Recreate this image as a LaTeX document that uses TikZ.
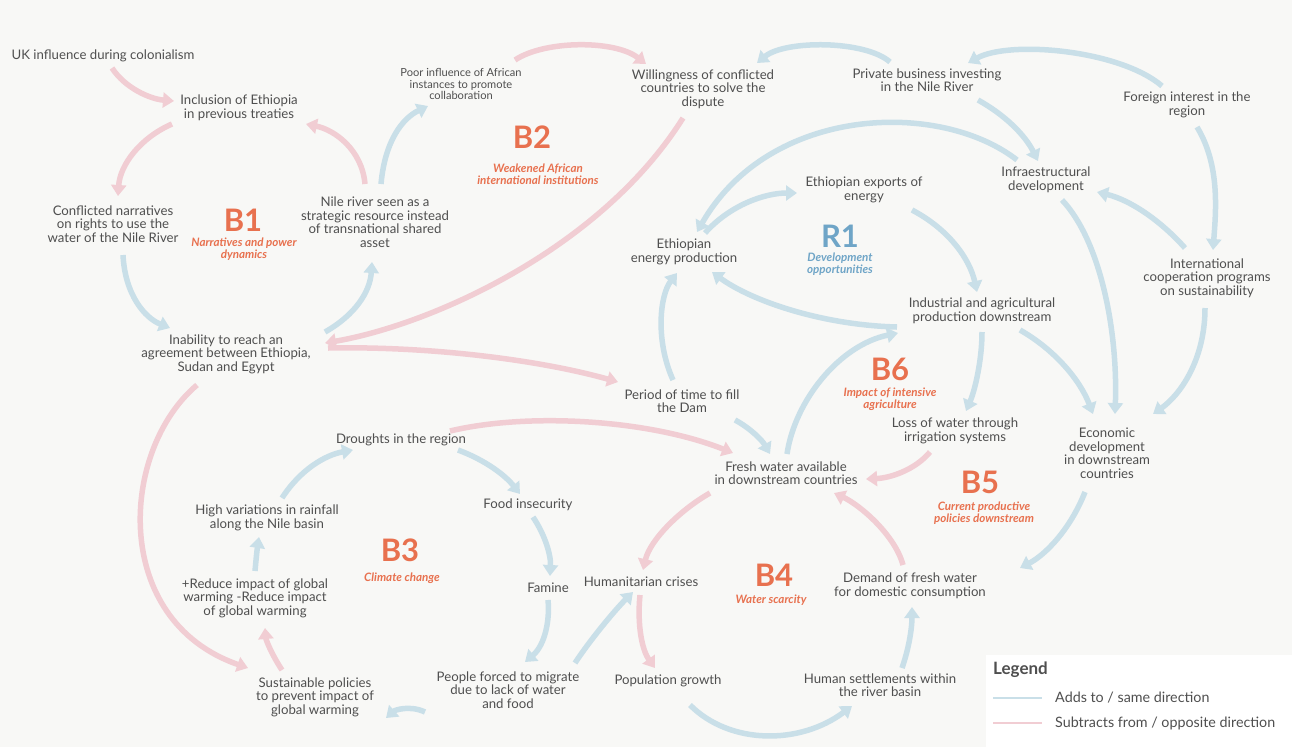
\documentclass[tikz,border=0pt]{standalone}
\usepackage{fontspec}
\setmainfont{Lato}
\usetikzlibrary{arrows.meta}
\definecolor{bgc}{HTML}{F8F8F6}
\definecolor{txtc}{HTML}{4F4F4F}
\definecolor{bluec}{HTML}{C9DFE8}
\definecolor{pinkc}{HTML}{F1CDD3}
\definecolor{orangec}{HTML}{E8714F}
\definecolor{r1c}{HTML}{6FA5C7}
\begin{document}
\begin{tikzpicture}[x=1pt,y=-1pt,
  txt/.style={align=center, text=txtc, inner sep=0pt, font=\fontsize{13.2}{13.5}\selectfont},
  smalltxt/.style={align=center, text=txtc, inner sep=0pt, font=\fontsize{11.1}{11.6}\selectfont},
  looptitle/.style={text=orangec, inner sep=0pt, text height=22pt, text depth=0pt, font=\fontsize{31}{31}\selectfont\bfseries},
  loopsub/.style={align=center, text=orangec, inner sep=0pt, font=\fontsize{11.6}{12.3}\selectfont\bfseries\itshape},
  bl/.style={draw=bluec, line width=5.5pt, -{Triangle[width=15pt,length=11pt]}},
  pk/.style={draw=pinkc, line width=5.5pt, -{Triangle[width=15pt,length=11pt]}},
  legtxt/.style={anchor=west, text=txtc, inner sep=0pt, font=\fontsize{14.3}{15}\selectfont}
]
\fill[bgc] (0,0) rectangle (1292,747);
\fill[white] (986,655) rectangle (1292,747);

% nodes
\node[txt] (uk) at (103,56) {UK influence during colonialism};
\node[txt] (incl) at (239,108) {Inclusion of Ethiopia\\in previous treaties};
\node[txt] (confl) at (113,224) {Conflicted narratives\\on rights to use the\\water of the Nile River};
\node[txt] (nile) at (375,222) {Nile river seen as a\\strategic resource instead\\of transnational shared\\asset};
\node[smalltxt] (poor) at (461,84) {Poor influence of African\\instances to promote\\collaboration};
\node[txt] (will) at (703,89) {Willingness of conflicted\\countries to solve the\\dispute};
\node[txt] (priv) at (927,80) {Private business investing\\in the Nile River};
\node[txt] (foreign) at (1187,105) {Foreign interest in the\\region};
\node[txt] (infra) at (1046,180) {Infraestructural\\development};
\node[txt] (exports) at (864,190) {Ethiopian exports of\\energy};
\node[txt] (energy) at (684,252) {Ethiopian\\energy production};
\node[txt] (intl) at (1207,278) {International\\cooperation programs\\on sustainability};
\node[txt] (indus) at (982,311) {Industrial and agricultural\\production downstream};
\node[txt] (inab) at (226,354) {Inability to reach an\\agreement between Ethiopia,\\Sudan and Egypt};
\node[txt] (period) at (682,401) {Period of time to fill\\the Dam};
\node[txt] (loss) at (955,431) {Loss of water through\\irrigation systems};
\node[txt] (econ) at (1107,453) {Economic\\development\\in downstream\\countries};
\node[txt] (drought) at (401,440) {Droughts in the region};
\node[txt] (fresh) at (786,473) {Fresh water available\\in downstream countries};
\node[txt] (rain) at (267,518) {High variations in rainfall\\along the Nile basin};
\node[txt] (food) at (528,505) {Food insecurity};
\node[txt] (reduce) at (255,598) {+Reduce impact of global\\warming -Reduce impact\\of global warming};
\node[txt] (famine) at (548,588) {Famine};
\node[txt] (hum) at (641,582) {Humanitarian crises};
\node[txt] (demand) at (910,586) {Demand of fresh water\\for domestic consumption};
\node[txt] (pop) at (668,681) {Population growth};
\node[txt] (settle) at (880,685) {Human settlements within\\the river basin};
\node[txt] (people) at (508,690) {People forced to migrate\\due to lack of water\\and food};
\node[txt] (sust) at (315,697) {Sustainable policies\\to prevent impact of\\global warming};

% loop labels
\node[looptitle] (b1) at (243,220) {B1};
\node[loopsub] (b1s) at (244,249) {Narratives and power\\dynamics};
\node[looptitle] (b2) at (532,137) {B2};
\node[loopsub] (b2s) at (538,174) {Weakened African\\international institutions};
\node[looptitle, text=r1c] (r1) at (840,236) {R1};
\node[loopsub, text=r1c] (r1s) at (840,264) {Development\\opportunities};
\node[looptitle] (b6) at (890,369) {B6};
\node[loopsub] (b6s) at (890,399) {Impact of intensive\\agriculture};
\node[looptitle] (b5) at (980,482) {B5};
\node[loopsub] (b5s) at (984,513) {Current productive\\policies downstream};
\node[looptitle] (b3) at (400,550) {B3};
\node[loopsub] (b3s) at (402,578) {Climate change};
\node[looptitle] (b4) at (774,575) {B4};
\node[loopsub] (b4s) at (771,600) {Water scarcity};

% connectors
\draw[pk] ([shift={(9,12)}]uk.center) .. controls (125,88) and (150,99) .. ([shift={(-65,-7)}]incl.center);
\draw[pk] ([shift={(-67,16)}]incl.center) .. controls (140,138) and (120,165) .. ([shift={(5,-28)}]confl.center);
\draw[pk] ([shift={(-10,-38)}]nile.center) .. controls (362,150) and (335,130) .. ([shift={(67,16)}]incl.center);
\draw[bl] ([shift={(6,-38)}]nile.center) .. controls (385,140) and (403,118) .. ([shift={(-33,22)}]poor.center);
\draw[bl] ([shift={(10,31)}]confl.center) .. controls (125,295) and (145,318) .. ([shift={(-56,-26)}]inab.center);
\draw[bl] ([shift={(99,-22)}]inab.center) .. controls (355,315) and (370,292) .. ([shift={(-3,40)}]nile.center);
\draw[pk] ([shift={(54,-24)}]poor.center) .. controls (545,40) and (615,40) .. ([shift={(-57,-25)}]will.center);
\draw[pk] ([shift={(-20,29)}]will.center) .. controls (600,250) and (430,325) .. ([shift={(99,-11)}]inab.center);
\draw[pk] ([shift={(102,-6)}]inab.center) .. controls (430,346) and (540,360) .. ([shift={(-64,-19)}]period.center);
\draw[bl] ([shift={(-37,-18)}]priv.center) .. controls (865,40) and (785,40) .. ([shift={(54,-26)}]will.center);
\draw[bl] ([shift={(-25,-19)}]foreign.center) .. controls (1120,50) and (1010,40) .. ([shift={(41,-17)}]priv.center);
\draw[bl] ([shift={(10,22)}]foreign.center) .. controls (1220,165) and (1216,210) .. ([shift={(6,-28)}]intl.center);
\draw[bl] ([shift={(51,20)}]priv.center) .. controls (1005,115) and (1025,135) .. ([shift={(-8,-19)}]infra.center);
\draw[bl] ([shift={(-29,-20)}]infra.center) .. controls (940,100) and (770,105) .. ([shift={(13,-20)}]energy.center);
\draw[bl] ([shift={(21,-19)}]energy.center) .. controls (730,205) and (765,193) .. ([shift={(-67,3)}]exports.center);
\draw[bl] ([shift={(48,20)}]exports.center) .. controls (950,230) and (970,260) .. ([shift={(-5,-19)}]indus.center);
\draw[bl] ([shift={(-85,16)}]indus.center) .. controls (820,325) and (750,300) .. ([shift={(28,20)}]energy.center);
\draw[bl] ([shift={(-9,-21)}]period.center) .. controls (655,340) and (660,295) .. ([shift={(-7,21)}]energy.center);
\draw[bl] ([shift={(53,19)}]period.center) .. controls (750,428) and (762,440) .. ([shift={(-16,-19)}]fresh.center);
\draw[bl] ([shift={(1,-19)}]fresh.center) .. controls (795,400) and (840,345) .. ([shift={(-84,22)}]indus.center);
\draw[bl] ([shift={(0,21)}]indus.center) .. controls (982,360) and (975,390) .. ([shift={(11,-20)}]loss.center);
\draw[bl] ([shift={(38,19)}]indus.center) .. controls (1055,350) and (1080,380) .. ([shift={(-14,-39)}]econ.center);
\draw[bl] ([shift={(16,20)}]infra.center) .. controls (1100,240) and (1118,330) .. ([shift={(8,-39)}]econ.center);
\draw[bl] ([shift={(-2,30)}]intl.center) .. controls (1205,360) and (1180,395) .. ([shift={(46,-39)}]econ.center);
\draw[bl] ([shift={(-22,-30)}]intl.center) .. controls (1160,220) and (1130,200) .. ([shift={(51,12)}]infra.center);
\draw[bl] ([shift={(-22,39)}]econ.center) .. controls (1070,530) and (1045,555) .. ([shift={(110,-18)}]demand.center);
\draw[pk] ([shift={(-25,21)}]loss.center) .. controls (915,470) and (890,478) .. ([shift={(80,6)}]fresh.center);
\draw[pk] ([shift={(-7,-21)}]demand.center) .. controls (895,535) and (860,505) .. ([shift={(48,20)}]fresh.center);
\draw[pk] ([shift={(-76,20)}]fresh.center) .. controls (680,510) and (650,540) .. ([shift={(2,-12)}]hum.center);
\draw[pk] ([shift={(49,-9)}]drought.center) .. controls (530,412) and (650,420) .. ([shift={(-53,-20)}]fresh.center);
\draw[bl] ([shift={(57,10)}]drought.center) .. controls (485,460) and (505,475) .. ([shift={(-8,-11)}]food.center);
\draw[bl] ([shift={(15,-20)}]rain.center) .. controls (300,470) and (325,455) .. ([shift={(-48,10)}]drought.center);
\draw[bl] ([shift={(0,-27)}]reduce.center) .. controls (256,560) and (257,550) .. ([shift={(-8,19)}]rain.center);
\draw[bl] ([shift={(5,12)}]food.center) .. controls (545,535) and (551,555) .. ([shift={(2,-12)}]famine.center);
\draw[bl] ([shift={(0,12)}]famine.center) .. controls (550,620) and (545,645) .. ([shift={(17,-28)}]people.center);
\draw[bl] ([shift={(67,-27)}]people.center) .. controls (590,640) and (615,610) .. ([shift={(-8,10)}]hum.center);
\draw[pk] ([shift={(-1,13)}]hum.center) .. controls (637,625) and (642,650) .. ([shift={(-13,-13)}]pop.center);
\draw[bl] ([shift={(22,24)}]pop.center) .. controls (730,745) and (800,745) .. ([shift={(-28,21)}]settle.center);
\draw[bl] ([shift={(22,-17)}]settle.center) .. controls (910,645) and (912,625) .. ([shift={(2,21)}]demand.center);
\draw[bl] ([shift={(-83,22)}]people.center) .. controls (410,705) and (395,710) .. ([shift={(71,21)}]sust.center);
\draw[pk] ([shift={(-29,31)}]inab.center) .. controls (120,450) and (110,620) .. ([shift={(-67,-29)}]sust.center);
\draw[pk] ([shift={(-33,-27)}]sust.center) .. controls (272,655) and (266,640) .. ([shift={(10,30)}]reduce.center);

% legend
\node[anchor=west, text=txtc, inner sep=0pt, font=\fontsize{17}{18}\selectfont\bfseries] (legend) at (993,670) {Legend};
\coordinate (lb1) at (993,698);
\coordinate (lb2) at (1042,698);
\draw[draw=bluec, line width=1.5pt] (lb1) -- (lb2);
\node[legtxt] (leg1) at (1055,698) {Adds to / same direction};
\coordinate (lp1) at (993,723);
\coordinate (lp2) at (1042,723);
\draw[draw=pinkc, line width=1.5pt] (lp1) -- (lp2);
\node[legtxt] (leg2) at (1055,723) {Subtracts from / opposite direction};
\end{tikzpicture}
\end{document}
